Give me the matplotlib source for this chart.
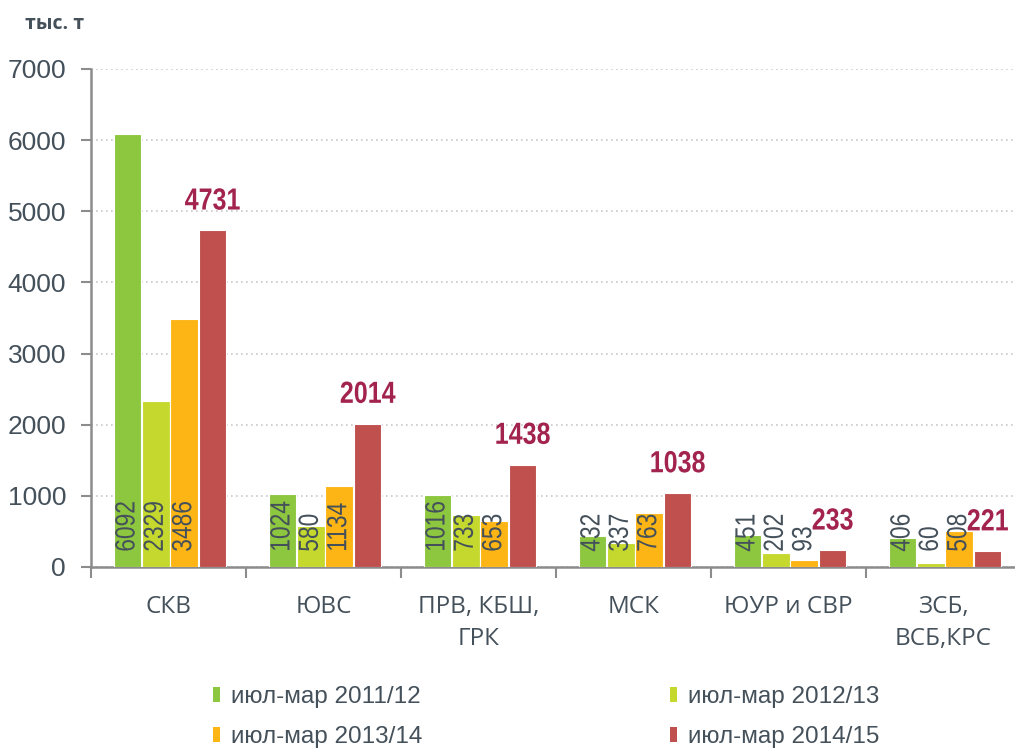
import matplotlib
matplotlib.use("Agg")
import matplotlib.pyplot as plt
from matplotlib.patches import Patch
from matplotlib.patheffects import AbstractPathEffect
from matplotlib.transforms import Affine2D
import numpy as np

categories = ["СКВ", "ЮВС", "ПРВ, КБШ,\nГРК", "МСК", "ЮУР и СВР", "ЗСБ,\nВСБ,КРС"]
series_names = ["июл-мар 2011/12", "июл-мар 2012/13", "июл-мар 2013/14", "июл-мар 2014/15"]
v2011 = [6092, 1024, 1016, 432, 451, 406]
v2012 = [2329, 580, 733, 337, 202, 60]
v2013 = [3486, 1134, 653, 763, 93, 508]
v2014 = [4731, 2014, 1438, 1038, 233, 221]
yticks = [0, 1000, 2000, 3000, 4000, 5000, 6000, 7000]
unit_label = "тыс. т"

colors = ["#8dc63f", "#c4d82e", "#fdb515", "#c0504d"]
txt = "#44505a"
accent = "#a3234f"
regular = "Liberation Sans"
xfont = "Open Sans"


class Condense(AbstractPathEffect):
    """Horizontally condense text glyphs (narrow-font look)."""

    def __init__(self, sx=0.82, anchor="left"):
        super().__init__()
        self.sx = sx
        self.anchor = anchor

    def draw_path(self, renderer, gc, tpath, affine, rgbFace=None):
        ext = tpath.get_extents()
        cx = (ext.x0 + ext.x1) / 2 if self.anchor == "center" else 0.0
        t = Affine2D().translate(-cx, 0).scale(self.sx, 1).translate(cx, 0) + affine
        renderer.draw_path(gc, tpath, t, rgbFace)


fig = plt.figure(figsize=(10.15, 7.51), dpi=100)
ax = fig.add_axes([91 / 1015, 184 / 751, 930 / 1015, 498 / 751])

x = np.arange(len(categories))
width = 0.178
step = 0.183
all_series = [v2011, v2012, v2013, v2014]
for i, (vals, c) in enumerate(zip(all_series, colors)):
    pos = x + (i - 1.5) * step + 0.01
    ax.bar(pos, vals, width=width, color=c, edgecolor="white", linewidth=0.8, zorder=3)
    for p, v in zip(pos, vals):
        if i < 3:
            ax.annotate(str(v), (p, 0), xytext=(0, 11), textcoords="offset points",
                        rotation=90, ha="center", va="bottom", fontsize=20,
                        family=regular, color=txt, zorder=4,
                        path_effects=[Condense(0.82, "left")])
        else:
            ax.annotate(str(v), (p, v), xytext=(0, 10), textcoords="offset points",
                        ha="center", va="bottom", fontsize=22, fontweight="bold",
                        family=regular, color=accent, zorder=4,
                        path_effects=[Condense(0.82, "center")])

ax.set_xlim(-0.5, len(categories) - 0.5)
ax.set_ylim(0, 7000)
ax.set_yticks(yticks)
ax.set_yticklabels([str(t) for t in yticks], fontsize=19, family=regular, color=txt)
ax.set_xticks(x)
ax.set_xticklabels(categories, fontsize=17.5, family=xfont, color=txt, linespacing=1.45)
ax.set_xticks(np.arange(len(categories) + 1) - 0.5, minor=True)
ax.tick_params(axis="x", which="major", length=0, pad=20)
ax.tick_params(axis="x", which="minor", length=8, width=1.5, color="#8c8c8c", direction="out")
ax.tick_params(axis="y", length=7, width=1.5, color="#8c8c8c", pad=11)

for s in ["top", "right"]:
    ax.spines[s].set_visible(False)
for s in ["left", "bottom"]:
    ax.spines[s].set_color("#8c8c8c")
    ax.spines[s].set_linewidth(1.8)

ax.yaxis.grid(True, color="#c8c8c8", linestyle=(0, (1, 2)), linewidth=1.2, zorder=0)
ax.set_axisbelow(True)

fig.text(25 / 1015, 1 - 24 / 751, unit_label, fontsize=14, fontweight="bold",
         family=xfont, color=txt, ha="left", va="center")

# legend: one entry per slot (2 x 2 grid)
slots = [(213, 697), (670, 697), (213, 737), (670, 737)]
for k, (sx, sy) in enumerate(slots):
    fig.legend([Patch(facecolor=colors[k], edgecolor="none")], [series_names[k]],
               loc="center left", bbox_to_anchor=(sx / 1015, 1 - sy / 751),
               frameon=False, borderpad=0, borderaxespad=0,
               prop={"family": regular, "size": 17.5}, labelcolor=txt,
               handlelength=0.3, handleheight=0.6, handletextpad=0.45)

fig.savefig("out.png", dpi=100)
